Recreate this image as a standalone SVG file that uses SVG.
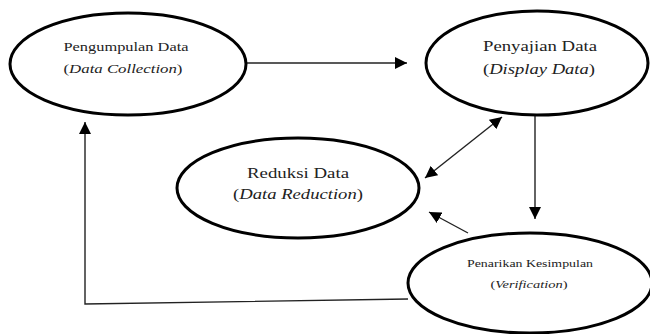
<svg xmlns="http://www.w3.org/2000/svg" width="650" height="334" viewBox="0 0 650 334">
<style>
.node{fill:#fff;stroke:#000;stroke-width:3}
.t{fill:#222;text-anchor:middle}
.c{fill:none;stroke:#222;stroke-width:1.4}
</style>
<defs>
<marker id="ah" viewBox="0 0 10 10" refX="10" refY="5" markerWidth="12" markerHeight="12" markerUnits="userSpaceOnUse" orient="auto-start-reverse">
<path d="M0,0 L10,5 L0,10 z" fill="#000"/>
</marker>
</defs>
<rect width="650" height="334" fill="#fff"/>
<g id="connectors">
<line class="c" x1="245" y1="63" x2="407" y2="63" marker-end="url(#ah)"/>
<line class="c" x1="425" y1="178" x2="502" y2="117" marker-start="url(#ah)" marker-end="url(#ah)"/>
<line class="c" x1="535" y1="116" x2="535" y2="219" marker-end="url(#ah)"/>
<line class="c" x1="468" y1="233" x2="429" y2="212" marker-end="url(#ah)"/>
<polyline class="c" points="408,299 85,304 85,122" marker-end="url(#ah)"/>
</g>
<g font-family="Liberation Serif, DejaVu Serif, serif">
<g id="pengumpulan">
<ellipse class="node" cx="128" cy="64" rx="118" ry="51"/>
<text class="t" x="126" y="51" font-size="13" textLength="125" lengthAdjust="spacingAndGlyphs">Pengumpulan Data</text>
<text class="t" x="123" y="73" font-size="13" textLength="119" lengthAdjust="spacingAndGlyphs">(<tspan font-style="italic">Data Collection</tspan>)</text>
</g>
<g id="penyajian">
<ellipse class="node" cx="537" cy="63" rx="111" ry="52"/>
<text class="t" x="540" y="51" font-size="15" textLength="114" lengthAdjust="spacingAndGlyphs">Penyajian Data</text>
<text class="t" x="539" y="74" font-size="15" textLength="112" lengthAdjust="spacingAndGlyphs">(<tspan font-style="italic">Display Data</tspan>)</text>
</g>
<g id="reduksi">
<ellipse class="node" cx="298" cy="188" rx="121" ry="50"/>
<text class="t" x="298" y="178" font-size="15" textLength="102" lengthAdjust="spacingAndGlyphs">Reduksi Data</text>
<text class="t" x="298" y="199" font-size="15" textLength="130" lengthAdjust="spacingAndGlyphs">(<tspan font-style="italic">Data Reduction</tspan>)</text>
</g>
<g id="penarikan">
<ellipse class="node" cx="530" cy="283" rx="122" ry="50"/>
<text class="t" x="530" y="267" font-size="11" textLength="126" lengthAdjust="spacingAndGlyphs">Penarikan Kesimpulan</text>
<text class="t" x="529" y="288" font-size="11" textLength="77" lengthAdjust="spacingAndGlyphs">(<tspan font-style="italic">Verification</tspan>)</text>
</g>
</g>
</svg>
